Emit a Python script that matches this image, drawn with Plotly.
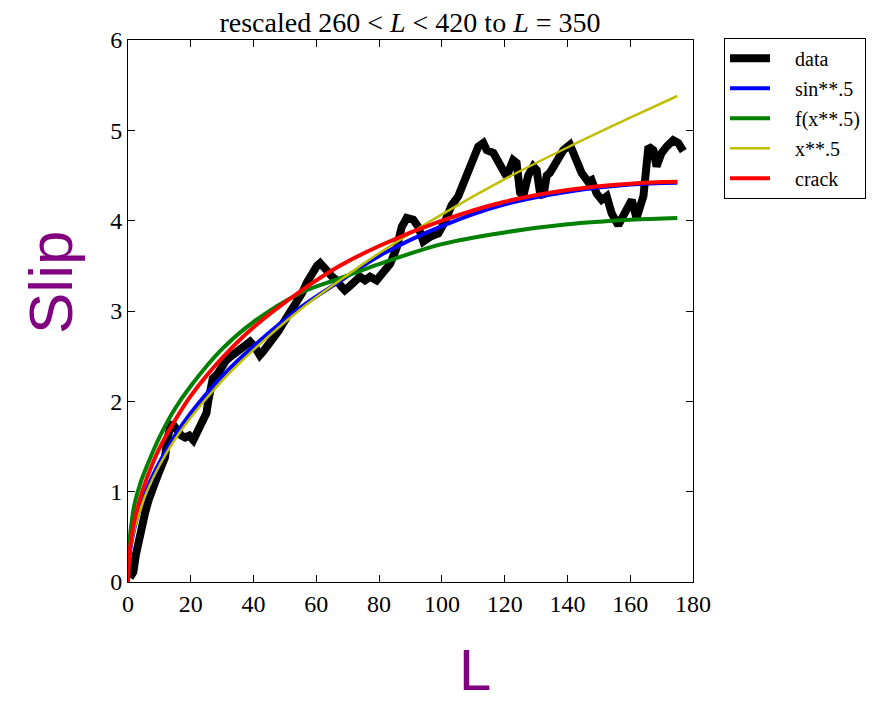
import plotly.graph_objects as go

# ---- data ----
data_L = [0.6, 1.7, 2.5, 3.3, 4.3, 5.4, 6.5, 7.5, 8.6, 9.7, 10.8, 11.8, 12.4, 12.9, 13.6, 14.4,
          15.2, 16.0, 17.0, 18.2, 19.5, 20.8, 21.9, 23.5, 25.0, 25.6, 26.1, 27.0, 28.5, 30.0,
          31.2, 32.5, 34.0, 35.5, 36.7, 38.9, 40.5, 42.0, 43.0, 44.2, 46.3, 48.0, 49.5, 51.5,
          53.7, 55.5, 56.9, 58.0, 59.0, 60.2, 61.2, 62.2, 63.3, 65.0, 66.5, 68.0, 69.1, 70.5,
          71.8, 73.9, 75.5, 77.1, 79.2, 80.3, 81.3, 83.5, 85.6, 87.2, 88.8, 90.9, 92.5, 94.1,
          96.2, 98.9, 101.0, 103.1, 105.2, 106.8, 108.4, 110.0, 111.6, 113.2, 114.3, 116.4,
          118.5, 120.6, 122.7, 123.8, 124.9, 125.9, 127.5, 129.1, 130.2, 131.3, 132.3, 133.4,
          134.4, 136.6, 138.7, 140.8, 142.9, 144.5, 146.6, 147.7, 149.3, 150.9, 152.5, 154.1,
          156.2, 157.8, 159.4, 160.5, 162.0, 164.2, 165.8, 167.4, 168.4, 170.0, 171.6, 173.7,
          175.3, 176.9]
data_S = [0.05, 0.11, 0.30, 0.46, 0.62, 0.76, 0.90, 1.02, 1.10, 1.20, 1.30, 1.38, 1.55, 1.68, 1.74, 1.74,
          1.70, 1.65, 1.62, 1.60, 1.62, 1.57, 1.65, 1.79, 1.87, 2.01, 2.16, 2.25, 2.30, 2.40,
          2.45, 2.49, 2.53, 2.55, 2.60, 2.66, 2.60, 2.51, 2.55, 2.60, 2.68, 2.78, 2.87, 2.98,
          3.09, 3.20, 3.31, 3.38, 3.45, 3.50, 3.53, 3.50, 3.45, 3.38, 3.34, 3.27, 3.23, 3.27,
          3.31, 3.38, 3.34, 3.38, 3.34, 3.38, 3.42, 3.52, 3.70, 3.93, 4.03, 4.01, 3.93, 3.77,
          3.82, 3.86, 3.99, 4.17, 4.27, 4.41, 4.53, 4.64, 4.82, 4.86, 4.78, 4.75,
          4.60, 4.49, 4.67, 4.64, 4.31, 4.27, 4.50, 4.60, 4.56, 4.30, 4.27, 4.50,
          4.53, 4.64, 4.78, 4.84, 4.67, 4.53, 4.43, 4.45, 4.30, 4.23, 4.27, 4.08,
          3.95, 4.05, 4.16, 4.23, 4.03, 4.27, 4.82, 4.78, 4.60, 4.75, 4.82, 4.89,
          4.86, 4.77]

fit_L = [0, 0.5, 1, 2, 4, 6, 10, 15, 20, 30, 40, 55, 67.5, 80, 100, 120, 140, 160, 175]
sin_S = [0, 0.30, 0.42, 0.59, 0.84, 1.03, 1.32, 1.62, 1.87, 2.28, 2.61, 3.04, 3.33, 3.61, 3.94, 4.18, 4.32, 4.40, 4.42]
fsq_S = [0, 0.45, 0.62, 0.85, 1.10, 1.28, 1.60, 1.92, 2.17, 2.58, 2.88, 3.20, 3.36, 3.52, 3.74, 3.87, 3.96, 4.01, 4.03]
sq_S = [0, 0.29, 0.41, 0.58, 0.81, 1.00, 1.29, 1.58, 1.82, 2.23, 2.57, 3.02, 3.34, 3.64, 4.07, 4.46, 4.81, 5.14, 5.38]
crack_S = [0, 0.33, 0.47, 0.67, 0.94, 1.15, 1.48, 1.79, 2.06, 2.48, 2.82, 3.22, 3.50, 3.72, 4.00, 4.21, 4.34, 4.41, 4.43]

series_names = ["data", "sin**.5", "f(x**.5)", "x**.5", "crack"]
x_ticks = [0, 20, 40, 60, 80, 100, 120, 140, 160, 180]
y_ticks = [0, 1, 2, 3, 4, 5, 6]

SERIF = "Liberation Serif, Times New Roman, Times, serif"
SANS = "Liberation Sans, Arial, sans-serif"
PURPLE = "#800080"
GAP = "\u2002\u2002"

fig = go.Figure()
fig.add_trace(go.Scatter(x=data_L, y=data_S, mode="lines", name=GAP + series_names[0],
                         line=dict(color="black", width=8), legendgroup="a"))
fig.add_trace(go.Scatter(x=fit_L, y=sin_S, mode="lines", name=GAP + series_names[1],
                         line=dict(color="#0000ff", width=4, shape="spline"), legendgroup="b"))
fig.add_trace(go.Scatter(x=fit_L, y=fsq_S, mode="lines", name=GAP + series_names[2],
                         line=dict(color="#008000", width=4, shape="spline"), legendgroup="c"))
fig.add_trace(go.Scatter(x=fit_L, y=sq_S, mode="lines", name=GAP + series_names[3],
                         line=dict(color="#bfbf00", width=2.5, shape="spline"), legendgroup="d"))
fig.add_trace(go.Scatter(x=fit_L, y=crack_S, mode="lines", name=GAP + series_names[4],
                         line=dict(color="#ff0000", width=4, shape="spline"), legendgroup="e"))

axis_common = dict(showgrid=False, zeroline=False, showline=True, linecolor="black", linewidth=1,
                   mirror="allticks", ticks="inside", ticklen=7, tickcolor="black", tickwidth=1,
                   tickfont=dict(family=SERIF, size=24, color="black"))

fig.update_layout(
    width=880, height=708,
    margin=dict(l=128, r=187, t=40, b=126, autoexpand=False),
    paper_bgcolor="white", plot_bgcolor="white",
    title=dict(text="rescaled 260 &lt; <i>L</i> &lt; 420 to <i>L</i> = 350",
               x=(410) / 880, xanchor="center", y=1 - 22 / 708, yanchor="middle",
               font=dict(family=SERIF, size=28, color="black")),
    xaxis=dict(range=[0, 180], tickvals=x_ticks, ticktext=[str(v) for v in x_ticks], **axis_common),
    yaxis=dict(range=[0, 6], tickvals=y_ticks, ticktext=[str(v) for v in y_ticks], **axis_common),
    legend=dict(x=(724 - 128) / 565, xanchor="left", y=1.004, yanchor="top",
                bgcolor="white", bordercolor="black", borderwidth=1,
                font=dict(family=SERIF, size=20, color="black"),
                traceorder="grouped", tracegroupgap=1, itemwidth=40),
    showlegend=True,
)

fig.add_annotation(text="Slip", x=(50 - 128) / 565, y=(582 - 283) / 542, xref="paper", yref="paper",
                   showarrow=False, textangle=-90, xanchor="center", yanchor="middle",
                   font=dict(family=SANS, size=62, color=PURPLE))
fig.add_annotation(text="L", x=(475 - 128) / 565, y=(582 - 669) / 542, xref="paper", yref="paper",
                   showarrow=False, xanchor="center", yanchor="middle",
                   font=dict(family=SANS, size=58, color=PURPLE))

fig.write_html("out.html")
